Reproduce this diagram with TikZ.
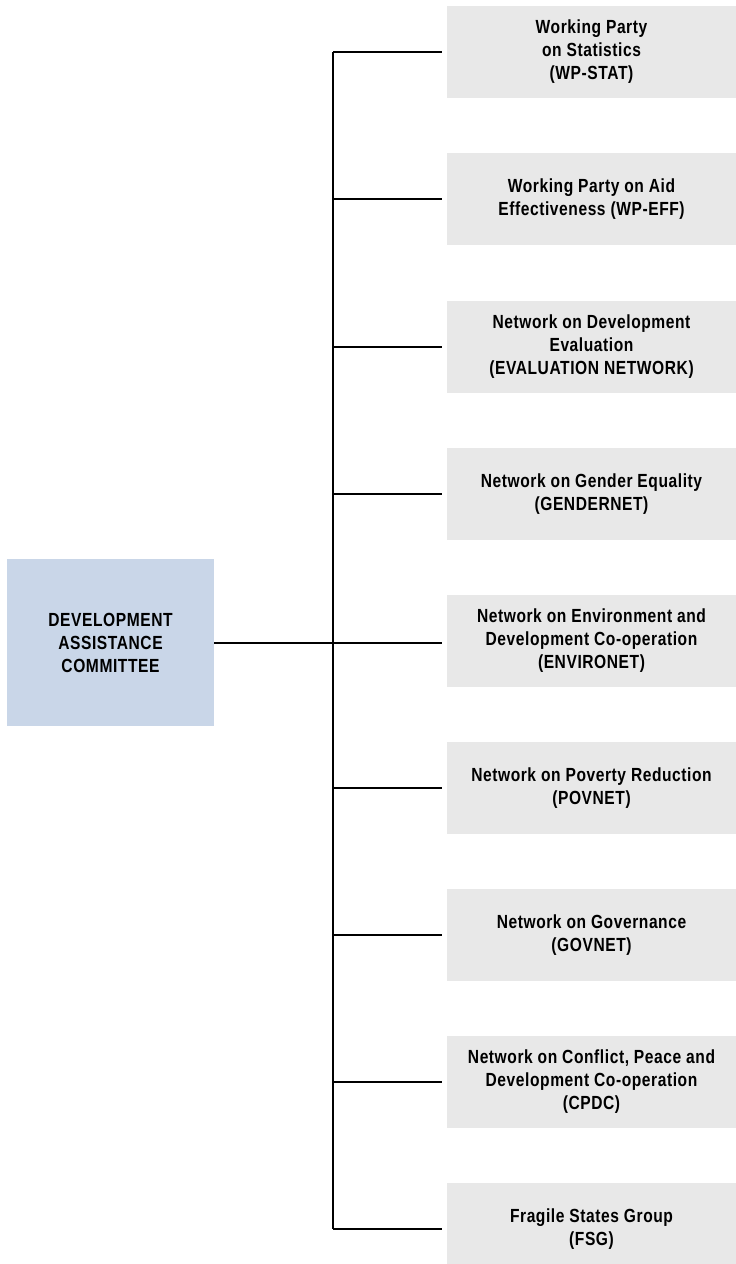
\documentclass[tikz,border=0pt]{standalone}
\usepackage{fontspec}
\setmainfont[FakeStretch=0.82, LetterSpace=3]{Liberation Sans}
\definecolor{dacblue}{HTML}{C9D6E8}
\definecolor{subgray}{HTML}{E8E8E8}
\tikzset{
	boxfont/.style={font=\bfseries\fontsize{19}{23}\selectfont},
	dacbox/.style={boxfont, fill=dacblue, minimum width=207pt, minimum height=167pt, align=center, inner sep=0pt},
	subbox/.style={boxfont, fill=subgray, minimum width=289pt, minimum height=92pt, align=center, inner sep=0pt},
	link/.style={line width=2pt, color=black}
}

\begin{document}
\begin{tikzpicture}[x=1pt, y=-1pt]
		%%%%% START %%%%%
		\useasboundingbox (0, 0) rectangle (736, 1264);
		
		\node[dacbox] (dac) at (110.5, 642.5) {DEVELOPMENT\\ASSISTANCE\\COMMITTEE};
		
		\node[subbox] (wpstat) at (591.5, 52) {Working Party\\on Statistics\\(WP-STAT)};
		\node[subbox] (wpeff) at (591.5, 199) {Working Party on Aid\\Effectiveness (WP-EFF)};
		\node[subbox] (evalnet) at (591.5, 346.5) {Network on Development\\Evaluation\\(EVALUATION NETWORK)};
		\node[subbox] (gendernet) at (591.5, 494) {Network on Gender Equality\\(GENDERNET)};
		\node[subbox] (environet) at (591.5, 641) {Network on Environment and\\Development Co-operation\\(ENVIRONET)};
		\node[subbox] (povnet) at (591.5, 788) {Network on Poverty Reduction\\(POVNET)};
		\node[subbox] (govnet) at (591.5, 935) {Network on Governance\\(GOVNET)};
		\node[subbox] (cpdc) at (591.5, 1082) {Network on Conflict, Peace and\\Development Co-operation\\(CPDC)};
		\node[subbox] (fsg) at (591.5, 1229) {Fragile States Group\\(FSG)};
		
		% bus line
		\coordinate (bus) at (333, 642);
		\draw[link] (wpstat.west -| bus) -- (fsg.west -| bus);
		\draw[link] (dac.east) -- ([xshift=-5pt]dac.east -| environet.west);
		
		% branches
		\draw[link] (wpstat.west -| bus) -- ([xshift=-5pt]wpstat.west);
		\draw[link] (wpeff.west -| bus) -- ([xshift=-5pt]wpeff.west);
		\draw[link] (evalnet.west -| bus) -- ([xshift=-5pt]evalnet.west);
		\draw[link] (gendernet.west -| bus) -- ([xshift=-5pt]gendernet.west);
		\draw[link] (povnet.west -| bus) -- ([xshift=-5pt]povnet.west);
		\draw[link] (govnet.west -| bus) -- ([xshift=-5pt]govnet.west);
		\draw[link] (cpdc.west -| bus) -- ([xshift=-5pt]cpdc.west);
		\draw[link] (fsg.west -| bus) -- ([xshift=-5pt]fsg.west);
		
		%%%%% END %%%%%
\end{tikzpicture}
\end{document}
